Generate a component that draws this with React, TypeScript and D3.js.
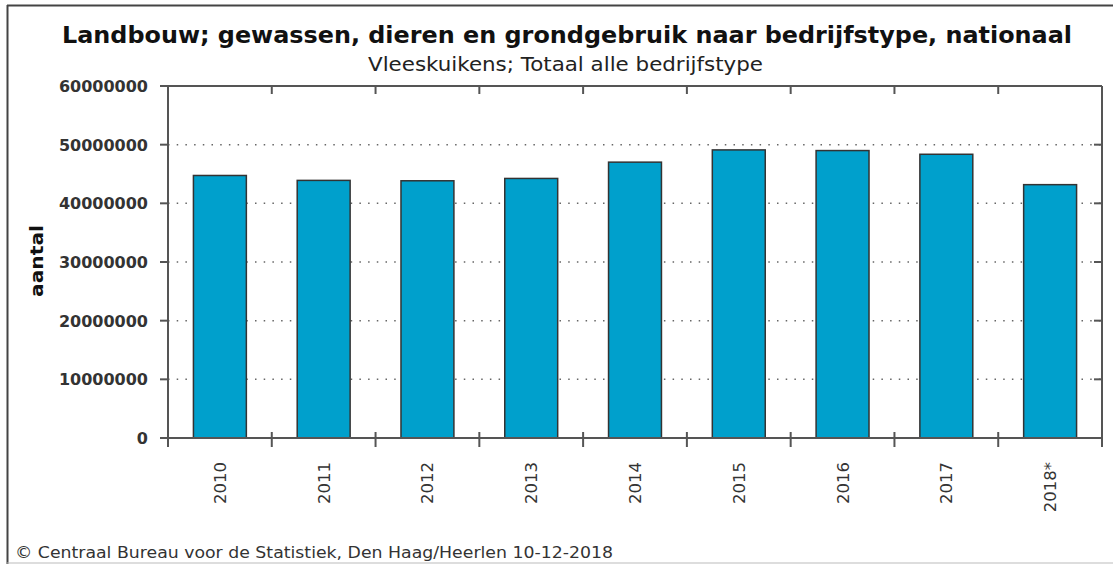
import React from "react";
import * as d3 from "d3";

const years = ["2010", "2011", "2012", "2013", "2014", "2015", "2016", "2017", "2018*"];
const values = [44748000, 43912000, 43845000, 44242000, 47020000, 49107000, 48994000, 48363000, 43183000];
const yTicks = [0, 10000000, 20000000, 30000000, 40000000, 50000000, 60000000];

const title = "Landbouw; gewassen, dieren en grondgebruik naar bedrijfstype, nationaal";
const subtitle = "Vleeskuikens; Totaal alle bedrijfstype";
const yLabel = "aantal";
const footer = "© Centraal Bureau voor de Statistiek, Den Haag/Heerlen 10-12-2018";

const W = 1113, H = 564;
const left = 168, right = 1102, top = 86, bottom = 438;
const font = "'DejaVu Sans', Verdana, sans-serif";

export default function App() {
  const x = d3.scaleBand<string>().domain(years).range([left, right]).paddingInner(0).paddingOuter(0);
  const y = d3.scaleLinear().domain([0, 60000000]).range([bottom, top]);
  const bw = x.bandwidth();
  const barW = bw * 0.51;
  const axisCol = "#555";
  const boundaries = years.map((_, i) => left + i * bw).concat([right]);

  return (
    <svg width={W} height={H} style={{ position: "absolute", left: 0, top: 0, background: "#fff" }} fontFamily={font}>
      <rect x={0} y={0} width={W} height={H} fill="#fff" />
      {/* outer frame */}
      <line x1={7.5} y1={5} x2={7.5} y2={H} stroke="#444" strokeWidth={2} />
      <line x1={7} y1={5.5} x2={W} y2={5.5} stroke="#444" strokeWidth={2} />
      <line x1={7} y1={563} x2={W} y2={563} stroke="#bbb" strokeWidth={1} />

      <text x={62} y={43} fontSize={23} fontWeight="bold" fill="#111" textLength={1010} lengthAdjust="spacingAndGlyphs">{title}</text>
      <text x={368} y={71} fontSize={19} fill="#222" textLength={395} lengthAdjust="spacingAndGlyphs">{subtitle}</text>

      {/* grid lines */}
      {yTicks.filter(t => t > 0 && t < 60000000).map(t => (
        <line key={"g" + t} x1={left} x2={right} y1={y(t)} y2={y(t)} stroke="#666" strokeWidth={1.5} strokeDasharray="1.5 7.2" />
      ))}

      {/* bars */}
      {years.map((yr, i) => {
        const cx = (x(yr) as number) + bw / 2;
        return (
          <rect key={yr} x={cx - barW / 2} y={y(values[i])} width={barW} height={bottom - y(values[i])}
            fill="#00a0cc" stroke="#333" strokeWidth={1.5} />
        );
      })}

      {/* axes frame */}
      <line x1={left} y1={top} x2={right} y2={top} stroke={axisCol} strokeWidth={2} />
      <line x1={left} y1={bottom} x2={right} y2={bottom} stroke={axisCol} strokeWidth={2} />
      <line x1={left} y1={top} x2={left} y2={bottom + 9} stroke={axisCol} strokeWidth={2} />
      <line x1={right} y1={top} x2={right} y2={bottom + 9} stroke={axisCol} strokeWidth={2} />

      {/* y ticks */}
      {yTicks.map(t => (
        <g key={"t" + t}>
          <line x1={left - 8} x2={left} y1={y(t)} y2={y(t)} stroke={axisCol} strokeWidth={2} />
          <line x1={right - 8} x2={right} y1={y(t)} y2={y(t)} stroke={axisCol} strokeWidth={2} />
          <text x={148} y={y(t) + 6} textAnchor="end" fontSize={16} fontWeight="bold" fill="#333">{t}</text>
        </g>
      ))}

      {/* x boundary ticks */}
      {boundaries.slice(1, -1).map((bx, i) => (
        <g key={"b" + i}>
          <line x1={bx} x2={bx} y1={top} y2={top + 8} stroke={axisCol} strokeWidth={2} />
          <line x1={bx} x2={bx} y1={bottom - 6} y2={bottom + 9} stroke={axisCol} strokeWidth={2} />
        </g>
      ))}

      {/* x labels */}
      {years.map(yr => {
        const cx = (x(yr) as number) + bw / 2;
        return (
          <text key={"l" + yr} transform={`translate(${cx + 6},${462}) rotate(-90)`} textAnchor="end" fontSize={16.5} fill="#333">{yr}</text>
        );
      })}

      <text transform={`translate(43,261) rotate(-90)`} textAnchor="middle" fontSize={18} fontWeight="bold" fill="#111" textLength={72} lengthAdjust="spacingAndGlyphs">{yLabel}</text>

      <text x={15} y={558} fontSize={16.5} fill="#333" textLength={598} lengthAdjust="spacingAndGlyphs">{footer}</text>
    </svg>
  );
}
